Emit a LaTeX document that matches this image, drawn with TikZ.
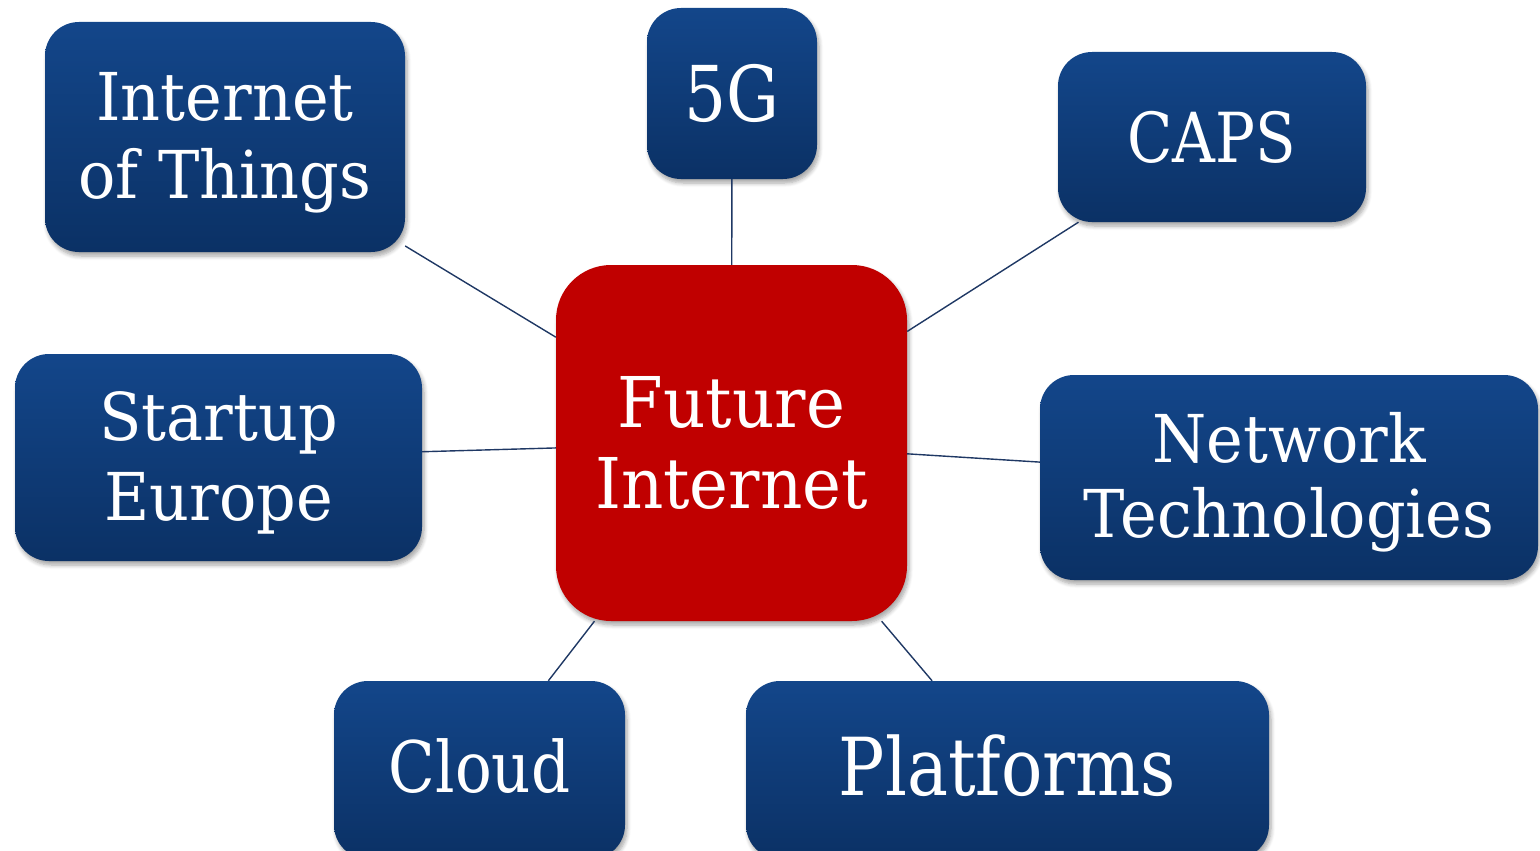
\documentclass[tikz,border=0pt]{standalone}
\usepackage{fontspec}
\setmainfont{DejaVu Serif}[FakeStretch=0.94]
\newfontfamily\narrowserif{DejaVu Serif}[FakeStretch=0.86]
\usetikzlibrary{shadows.blur}
\definecolor{bluetop}{RGB}{19,70,138}
\definecolor{bluebot}{RGB}{11,49,101}
\definecolor{fired}{RGB}{192,0,0}
\definecolor{linkcol}{RGB}{31,56,100}
\tikzset{
  bluebox/.style={rectangle, rounded corners=34pt, top color=bluetop, bottom color=bluebot,
    draw=none, text=white, align=center, inner sep=0pt,
    blur shadow={shadow xshift=2pt, shadow yshift=-4pt, shadow blur steps=6, shadow opacity=35, shadow blur radius=4pt}},
  redbox/.style={rectangle, rounded corners=55pt, fill=fired, draw=none, text=white, align=center, inner sep=0pt,
    blur shadow={shadow xshift=2pt, shadow yshift=-4pt, shadow blur steps=6, shadow opacity=35, shadow blur radius=4pt}},
  link/.style={draw=linkcol, line width=1.4pt}
}
\begin{document}
\begin{tikzpicture}[x=1pt,y=-1pt]
\useasboundingbox (0,0) rectangle (1540,851);
\clip (0,0) rectangle (1540,851);
% nodes
\node[redbox, minimum width=351pt, minimum height=356pt, font=\fontsize{70}{81}\selectfont] (fi) at (731.5,443)
  {Future\\Internet};
\node[bluebox, minimum width=360pt, minimum height=230pt, text depth=3pt, font=\fontsize{66}{78}\selectfont] (iot) at (225,137)
  {Internet\\of Things};
\node[bluebox, minimum width=170pt, minimum height=171pt, font=\narrowserif\fontsize{77}{80}\selectfont] (fiveg) at (732,93.5)
  {5G};
\node[bluebox, minimum width=308pt, minimum height=170pt, font=\narrowserif\fontsize{69}{80}\selectfont] (caps) at (1212,137)
  {CAPS};
\node[bluebox, minimum width=407pt, minimum height=207pt, text depth=3pt, font=\fontsize{66}{80}\selectfont] (startup) at (218.5,457.5)
  {Startup\\Europe};
\node[bluebox, minimum width=498pt, minimum height=205pt, text depth=5pt, font=\fontsize{66}{75}\selectfont] (net) at (1289,477.5)
  {Network\\Technologies};
\node[bluebox, minimum width=291pt, minimum height=178pt, text depth=8pt, font=\narrowserif\fontsize{71}{80}\selectfont] (cloud) at (479.5,770)
  {Cloud};
\node[bluebox, minimum width=523pt, minimum height=178pt, text depth=9pt, font=\narrowserif\fontsize{80}{80}\selectfont] (plat) at (1007.5,770)
  {Platforms};
% connectors
\draw[link] (iot) -- (fi);
\draw[link] (fiveg) -- (fi);
\draw[link] (caps) -- (fi);
\draw[link] (startup) -- (fi);
\draw[link] (net) -- (fi);
\draw[link] (cloud) -- (fi);
\draw[link] (plat) -- (fi);
\end{tikzpicture}
\end{document}
